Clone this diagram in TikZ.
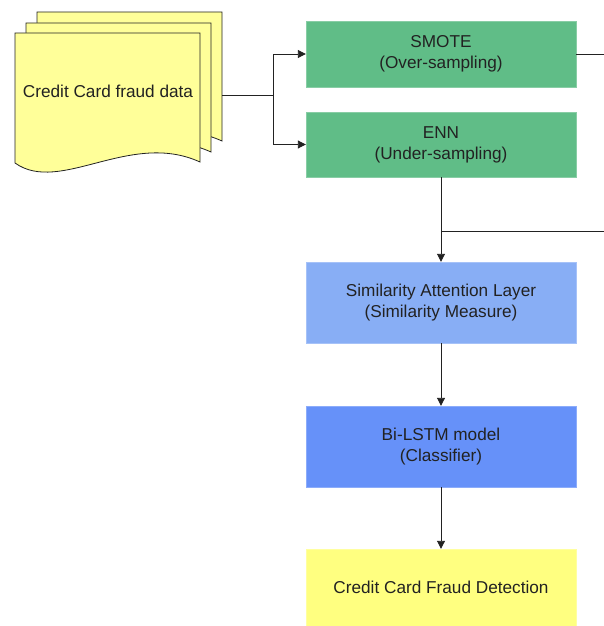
\documentclass[tikz,border=0pt]{standalone}
\usepackage{fontspec}
\setmainfont{Liberation Sans}
\usetikzlibrary{arrows.meta}
\definecolor{docyellow}{HTML}{FFFF99}
\definecolor{outyellow}{HTML}{FFFF80}
\definecolor{stepgreen}{HTML}{60BD87}
\definecolor{simblue}{HTML}{88AEF5}
\definecolor{lstmblue}{HTML}{6691F9}
\definecolor{ink}{HTML}{222222}
\tikzset{
  x=1pt, y=-1pt,
  labelfont/.style={font=\fontsize{17.2}{21}\selectfont, text=ink},
  stagebox/.style={rectangle, minimum width=270pt, inner sep=0pt,
    align=center, labelfont},
  wire/.style={draw=ink, line width=0.9pt},
  arr/.style={wire, -{Triangle[length=8pt,width=8pt]}},
  docsheet/.style={fill=docyellow, draw=ink, line width=0.8pt},
}
\begin{document}
\begin{tikzpicture}
\useasboundingbox (0,0) rectangle (604,626);

% stacked document sheets, back to front
\foreach \dx/\dy in {22/-21, 11/-10, 0/0}{
  \begin{scope}[shift={(\dx,\dy)}]
    \path[docsheet] (15,163) -- (15,33) -- (200,33) -- (200,162)
      .. controls (130,130) and (60,195) .. (15,163) -- cycle;
  \end{scope}
}
\node[labelfont] (data) at (108,91) {Credit Card fraud data};

% processing stages
\node[stagebox, minimum height=66pt, fill=stepgreen, draw=stepgreen!75!white] (smote) at (441,54) {SMOTE\\(Over-sampling)};
\node[stagebox, minimum height=65pt, fill=stepgreen, draw=stepgreen!75!white] (enn) at (441,144.5) {ENN\\(Under-sampling)};
\node[stagebox, minimum height=81pt, fill=simblue, draw=simblue!75!white] (sim) at (441,302.5) {Similarity Attention Layer\\(Similarity Measure)};
\node[stagebox, minimum height=81pt, fill=lstmblue, draw=lstmblue!75!white] (lstm) at (441,446.5) {Bi-LSTM model\\(Classifier)};
\node[stagebox, minimum height=77pt, fill=outyellow, draw=outyellow!75!white] (detect) at (441,587.5) {Credit Card Fraud Detection};

% connectors
\coordinate (docout) at (222,95);
\coordinate (split) at (273,95);
\coordinate (edgeA) at (604,54);
\coordinate (tap) at (441,231);
\coordinate (edgeB) at (604,231);

\draw[wire] (docout) -- (split);
\draw[arr] (split) |- (smote.west);
\draw[arr] (split) |- (enn.west);
\draw[wire] (smote.east) -- (edgeA);
\draw[arr] (enn.south) -- (sim.north);
\draw[wire] (tap) -- (edgeB);
\draw[arr] (sim.south) -- (lstm.north);
\draw[arr] (lstm.south) -- (detect.north);
\end{tikzpicture}
\end{document}
